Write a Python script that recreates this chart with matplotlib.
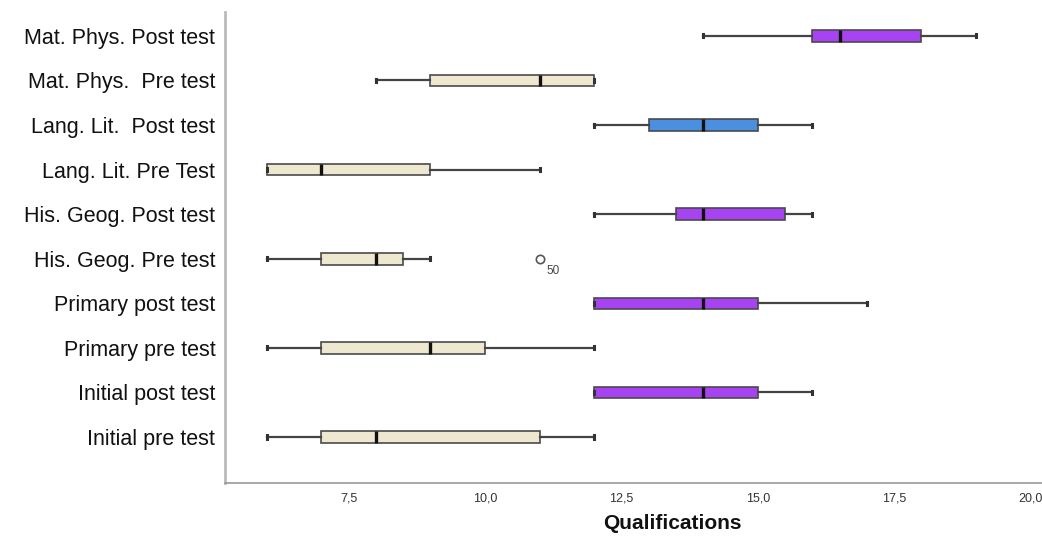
import matplotlib.pyplot as plt
from matplotlib.ticker import FuncFormatter

# groups, bottom to top
labels = ["Initial pre test", "Initial post test", "Primary pre test", "Primary post test",
          "His. Geog. Pre test", "His. Geog. Post test", "Lang. Lit. Pre Test",
          "Lang. Lit.  Post test", "Mat. Phys.  Pre test", "Mat. Phys. Post test"]
whislo = [6, 12, 6, 12, 6, 12, 6, 12, 8, 14]
q1 = [7, 12, 7, 12, 7, 13.5, 6, 13, 9, 16]
med = [8, 14, 9, 14, 8, 14, 7, 14, 11, 16.5]
q3 = [11, 15, 10, 15, 8.5, 15.5, 9, 15, 12, 18]
whishi = [12, 16, 12, 17, 9, 16, 11, 16, 12, 19]
fliers = [[], [], [], [], [11], [], [], [], [], []]
outlier_ids = [[], [], [], [], ["50"], [], [], [], [], []]

beige = "#EFE8D1"
purple = "#A843F4"
blue = "#4A8FE0"
colors = [beige, purple, beige, purple, beige, purple, beige, blue, beige, purple]

stats = []
for i in range(len(labels)):
    stats.append(dict(label=labels[i], whislo=whislo[i], q1=q1[i], med=med[i],
                      q3=q3[i], whishi=whishi[i], fliers=fliers[i]))

plt.rcParams['font.family'] = ['Liberation Sans', 'DejaVu Sans']

fig = plt.figure(figsize=(10.42, 5.39), dpi=100)
ax = fig.add_axes([0.216, 0.104, 0.784, 0.874])

pos = list(range(len(labels)))
bp = ax.bxp(stats, positions=pos, vert=False, widths=0.26, patch_artist=True,
            capwidths=0.07,
            boxprops=dict(edgecolor="#4a4a4a", linewidth=1.2),
            whiskerprops=dict(color="#444444", linewidth=1.6),
            capprops=dict(color="#333333", linewidth=2.2),
            medianprops=dict(color="#111111", linewidth=2.4),
            flierprops=dict(marker="o", markerfacecolor="none", markeredgecolor="#555555",
                            markersize=6, markeredgewidth=1.2))
for patch, c in zip(bp["boxes"], colors):
    patch.set_facecolor(c)

# outlier case numbers
for i in range(len(labels)):
    for v, t in zip(fliers[i], outlier_ids[i]):
        ax.annotate(t, (v, pos[i]), xytext=(5, -9), textcoords="offset points",
                    fontsize=8.5, color="#444444", va="center")

ax.set_xlim(5.236, 20.21)
ax.set_ylim(-1.03, 9.54)
ax.set_xticks([7.5, 10.0, 12.5, 15.0, 17.5, 20.0])
ax.xaxis.set_major_formatter(FuncFormatter(lambda v, p: f"{v:.1f}".replace(".", ",")))
ax.tick_params(axis="x", length=0, pad=7, labelsize=9, labelcolor="#333333")
ax.tick_params(axis="y", length=0, pad=7, labelsize=15.5, labelcolor="#111111")

for s in ["top", "right"]:
    ax.spines[s].set_visible(False)
ax.spines["left"].set_color("#bbbbbb")
ax.spines["left"].set_linewidth(2)
ax.spines["bottom"].set_color("#999999")
ax.spines["bottom"].set_linewidth(1.2)

ax.set_xlabel("Qualifications", fontsize=15, fontweight="bold", color="#111111")
ax.xaxis.set_label_coords(0.548, -0.065)

fig.savefig("out.png", dpi=100)
